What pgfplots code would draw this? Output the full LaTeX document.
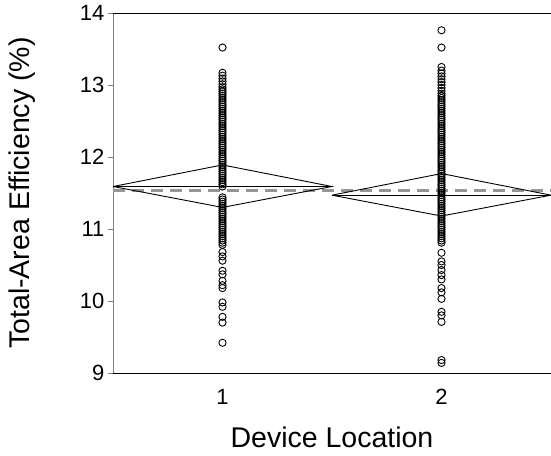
\documentclass[border=0pt]{standalone}
\usepackage{pgfplots}
\pgfplotsset{compat=1.18}
\usepackage{fontspec}
\setmainfont{Liberation Sans}
\definecolor{meangray}{RGB}{150,150,142}
\begin{document}
\begin{tikzpicture}
\begin{axis}[
  at={(0,0)}, anchor=south west,
  scale only axis, width=438pt, height=360pt,
  xmin=0.5, xmax=2.5, ymin=9, ymax=14,
  axis lines*=left,
  x axis line style={-,black,line width=0.8pt},
  y axis line style={-,color=gray,line width=0.8pt},
  ytick={9,10,11,12,13,14},
  xtick={1,2},
  tick align=outside,
  major tick length=5pt,
  y tick style={color=gray,line width=0.8pt},
  x tick style={draw=none},
  tick label style={font=\fontsize{22}{25}\selectfont},
  /pgf/number format/assume math mode=true,
  xticklabel style={yshift=-8pt},
  label style={font=\fontsize{28.5}{32}\selectfont},
  xlabel={Device Location},
  ylabel={Total-Area Efficiency (\%)},
  xlabel style={at={(axis description cs:0.5,-0.178)}, anchor=center},
  ylabel style={at={(axis description cs:-0.207,0.5)}, anchor=center},
]
\draw[black,line width=0.8pt] (rel axis cs:0,1) -- (rel axis cs:1,1);
% grand mean
\addplot[meangray, line width=3pt, dash pattern=on 12pt off 7pt] coordinates {(0.5,11.53) (2.5,11.53)};
% group 1 points
\addplot[only marks, mark=o, mark size=3.6pt, black, mark options={line width=0.9pt}] table[row sep=\\] {
x y\\
1 13.52\\ 1 13.17\\ 1 13.13\\ 1 13.09\\ 1 13.05\\ 1 13.01\\ 1 12.97\\ 1 12.94\\ 1 12.91\\ 1 12.88\\
1 12.85\\ 1 12.82\\ 1 12.79\\ 1 12.76\\ 1 12.73\\ 1 12.70\\ 1 12.67\\ 1 12.64\\ 1 12.61\\ 1 12.58\\
1 12.55\\ 1 12.52\\ 1 12.49\\ 1 12.46\\ 1 12.43\\ 1 12.40\\ 1 12.37\\ 1 12.34\\ 1 12.31\\ 1 12.28\\
1 12.25\\ 1 12.22\\ 1 12.19\\ 1 12.16\\ 1 12.13\\ 1 12.10\\ 1 12.07\\ 1 12.04\\ 1 12.01\\ 1 11.98\\
1 11.95\\ 1 11.92\\ 1 11.89\\ 1 11.86\\ 1 11.83\\ 1 11.80\\ 1 11.77\\ 1 11.74\\ 1 11.71\\ 1 11.68\\
1 11.65\\ 1 11.62\\ 1 11.59\\ 1 11.44\\ 1 11.41\\ 1 11.38\\ 1 11.35\\ 1 11.32\\ 1 11.29\\ 1 11.26\\
1 11.23\\ 1 11.20\\ 1 11.17\\ 1 11.14\\ 1 11.11\\ 1 11.08\\ 1 11.05\\ 1 11.02\\ 1 10.99\\ 1 10.96\\
1 10.93\\ 1 10.90\\ 1 10.87\\ 1 10.84\\ 1 10.81\\ 1 10.78\\ 1 10.68\\ 1 10.62\\ 1 10.56\\ 1 10.42\\
1 10.37\\ 1 10.28\\ 1 10.22\\ 1 10.18\\ 1 9.98\\ 1 9.92\\ 1 9.78\\ 1 9.70\\ 1 9.42\\
};
% group 2 points
\addplot[only marks, mark=o, mark size=3.6pt, black, mark options={line width=0.9pt}] table[row sep=\\] {
x y\\
2 13.76\\ 2 13.52\\ 2 13.25\\ 2 13.20\\ 2 13.16\\ 2 13.12\\ 2 13.08\\ 2 13.04\\ 2 13.00\\ 2 12.96\\
2 12.92\\ 2 12.88\\ 2 12.85\\ 2 12.82\\ 2 12.79\\ 2 12.76\\ 2 12.73\\ 2 12.70\\ 2 12.67\\ 2 12.64\\
2 12.61\\ 2 12.58\\ 2 12.55\\ 2 12.52\\ 2 12.49\\ 2 12.46\\ 2 12.43\\ 2 12.40\\ 2 12.37\\ 2 12.34\\
2 12.31\\ 2 12.28\\ 2 12.25\\ 2 12.22\\ 2 12.19\\ 2 12.16\\ 2 12.13\\ 2 12.10\\ 2 12.07\\ 2 12.04\\
2 12.01\\ 2 11.98\\ 2 11.95\\ 2 11.92\\ 2 11.89\\ 2 11.86\\ 2 11.83\\ 2 11.80\\ 2 11.77\\ 2 11.74\\
2 11.71\\ 2 11.68\\ 2 11.65\\ 2 11.62\\ 2 11.59\\ 2 11.56\\ 2 11.53\\ 2 11.50\\ 2 11.47\\ 2 11.44\\
2 11.41\\ 2 11.38\\ 2 11.35\\ 2 11.32\\ 2 11.29\\ 2 11.26\\ 2 11.23\\ 2 11.20\\ 2 11.17\\ 2 11.14\\
2 11.11\\ 2 11.08\\ 2 11.05\\ 2 11.02\\ 2 10.99\\ 2 10.96\\ 2 10.93\\ 2 10.90\\ 2 10.87\\ 2 10.84\\
2 10.81\\ 2 10.67\\ 2 10.55\\ 2 10.50\\ 2 10.43\\ 2 10.36\\ 2 10.30\\ 2 10.18\\ 2 10.12\\ 2 10.03\\
2 9.85\\ 2 9.80\\ 2 9.71\\ 2 9.18\\ 2 9.14\\
};
% means diamonds
\addplot[black, line width=0.9pt] coordinates {(0.5,11.59) (1,11.89) (1.5,11.59) (1,11.30) (0.5,11.59)};
\addplot[black, line width=0.9pt] coordinates {(0.5,11.59) (1.5,11.59)};
\addplot[black, line width=0.9pt] coordinates {(1.5,11.47) (2,11.77) (2.5,11.47) (2,11.18) (1.5,11.47)};
\addplot[black, line width=0.9pt] coordinates {(1.5,11.47) (2.5,11.47)};
\end{axis}
\pgfresetboundingbox
\path (-113pt,-82pt) rectangle (438pt,373pt);
\end{tikzpicture}
\end{document}
